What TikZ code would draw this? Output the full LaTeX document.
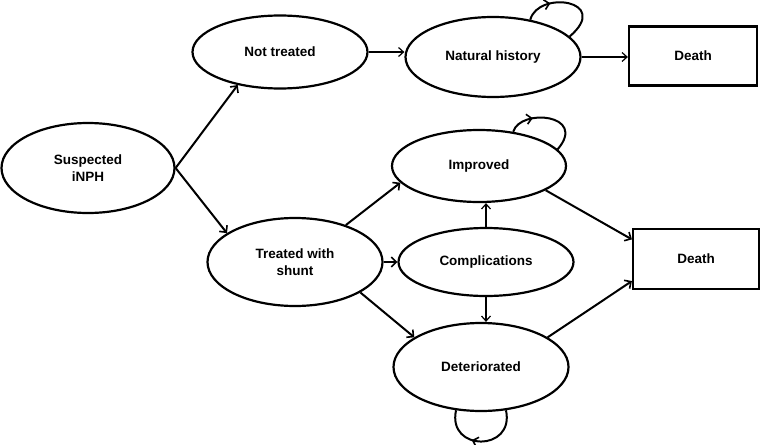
\documentclass[tikz,border=0pt]{standalone}
\usepackage{fontspec}
\setmainfont{Liberation Sans}
\usepackage{tikz}
\usetikzlibrary{arrows.meta, shapes.geometric, decorations.markings}

\tikzset{
    state/.style={ellipse, draw, line width=2.2pt, inner sep=0pt, align=center,
        font=\fontsize{13.5}{17}\selectfont\bfseries},
    absorb/.style={rectangle, draw, line width=2.2pt, inner sep=0pt,
        font=\fontsize{13.5}{17}\selectfont\bfseries},
    thickarr/.style={-{Straight Barb[length=5pt, width=10pt, line width=1.6pt]}, line width=2pt},
    thinarr/.style={-{Straight Barb[length=5pt, width=9pt, line width=1.2pt]}, line width=1.3pt},
    looparr/.style={line width=2pt, decoration={markings,
        mark=at position #1 with {\arrow{Straight Barb[length=5pt, width=10pt, line width=1.6pt]}}},
        postaction={decorate}}
}

\begin{document}
\begin{tikzpicture}[x=1pt, y=-1pt]
    \useasboundingbox (0,0) rectangle (762,444);
    % States
    \node[state, minimum width=173pt, minimum height=90pt] (sus) at (88,168) {Suspected\\iNPH};
    \node[state, minimum width=175pt, minimum height=73pt] (nt) at (280,52) {Not treated};
    \node[state, minimum width=175pt, minimum height=80pt] (nat) at (493,57) {Natural history};
    \node[state, minimum width=175pt, minimum height=88pt] (ts) at (295,262) {Treated with\\shunt};
    \node[state, minimum width=174pt, minimum height=72pt] (imp) at (479,166) {Improved};
    \node[state, minimum width=175pt, minimum height=68pt] (comp) at (486,262) {Complications};
    \node[state, minimum width=175pt, minimum height=88pt] (det) at (481,367) {Deteriorated};
    % Death boxes
    \node[absorb, minimum width=128pt, minimum height=59pt] (d1) at (693,56) {Death};
    \node[absorb, minimum width=126pt, minimum height=60pt] (d2) at (696,259) {Death};
    % Transitions
    \draw[thickarr] (sus.east) -- (nt.218);
    \draw[thickarr] (sus.east) -- (ts.157);
    \draw[thinarr] (nt.east) -- (nt.east -| nat.west);
    \draw[thinarr] (nat.east) -- (nat.east -| d1.west);
    \draw[thickarr] (ts.36) -- (imp.192);
    \draw[thickarr] (ts.east) -- (comp.west);
    \draw[thickarr] (ts.-25) -- (det.156);
    \draw[thinarr] (comp.north) -- (comp.north |- imp.south);
    \draw[thinarr] (comp.south) -- (comp.south |- det.north);
    \draw[thickarr] (imp.-20) -- (d2.163);
    \draw[thickarr] (det.24) -- (d2.199);
    % Self loops
    \draw[looparr=0.3] (nat.45) .. controls (538,-10) and (612,0) .. (nat.15);
    \draw[looparr=0.3] (imp.45) .. controls (520,108) and (588,114) .. (imp.12);
    \draw[looparr=0.6] (det.-60) .. controls (515,452) and (447,452) .. (det.-120);
\end{tikzpicture}
\end{document}
